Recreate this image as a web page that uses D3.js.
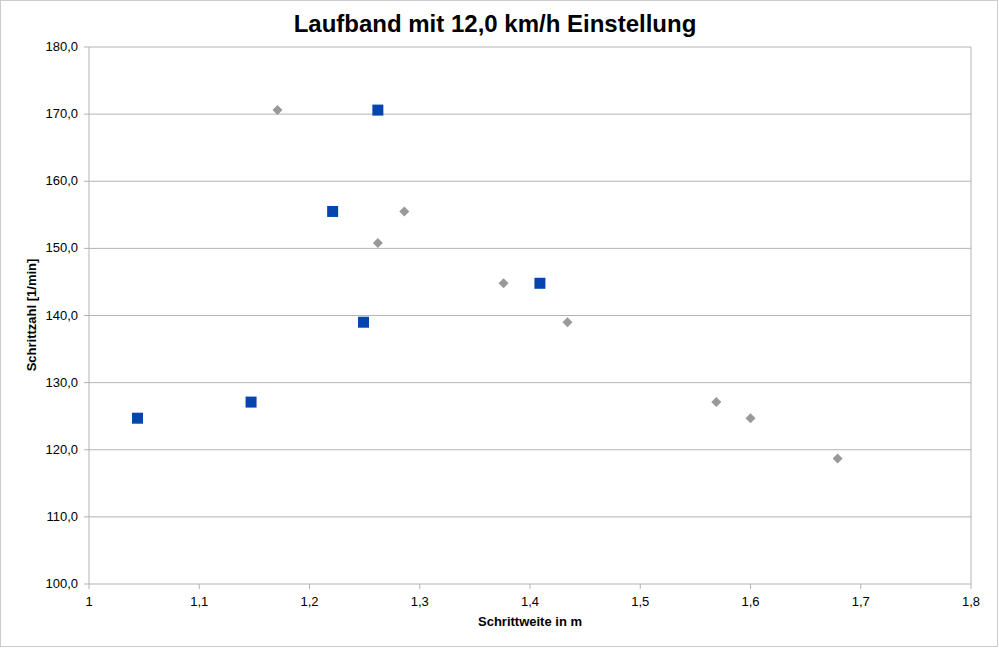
<!DOCTYPE html><html><head><meta charset="utf-8">
<script src="https://cdn.jsdelivr.net/npm/d3@7"></script>
<style>body{margin:0;background:#fff}text{font-family:"Liberation Sans",Arial,sans-serif}</style></head><body>
<svg id="c" width="999" height="648"></svg>
<script>
const blueX=[1.044,1.147,1.221,1.249,1.262,1.409];
const blueY=[124.7,127.1,155.5,139.0,170.6,144.8];
const grayX=[1.171,1.262,1.286,1.376,1.434,1.569,1.600,1.679];
const grayY=[170.6,150.8,155.5,144.8,139.0,127.1,124.7,118.7];
const xTicks=[1,1.1,1.2,1.3,1.4,1.5,1.6,1.7,1.8];
const yTicks=[100,110,120,130,140,150,160,170,180];
const svg=d3.select("#c");
svg.append("rect").attr("x",0.5).attr("y",0.5).attr("width",997).attr("height",646).attr("fill","#fff").attr("stroke","#ccc");
const x=d3.scaleLinear().domain([1,1.8]).range([89,971]);
const y=d3.scaleLinear().domain([100,180]).range([584,47]);
const fmt=d=>String(+d.toFixed(1)).replace(".",",");
const g=svg.append("g");
g.selectAll(".gl").data(yTicks).join("line").attr("x1",89).attr("x2",971).attr("y1",d=>y(d)).attr("y2",d=>y(d)).attr("stroke","#b3b3b3");
g.append("line").attr("x1",89).attr("x2",89).attr("y1",47).attr("y2",584).attr("stroke","#b3b3b3");
g.append("line").attr("x1",971).attr("x2",971).attr("y1",47).attr("y2",584).attr("stroke","#b3b3b3");
g.selectAll(".xt").data(xTicks).join("line").attr("x1",d=>x(d)).attr("x2",d=>x(d)).attr("y1",584).attr("y2",589).attr("stroke","#b3b3b3");
g.selectAll(".yt").data(yTicks).join("line").attr("x1",84).attr("x2",89).attr("y1",d=>y(d)).attr("y2",d=>y(d)).attr("stroke","#b3b3b3");
g.selectAll(".xl").data(xTicks).join("text").attr("x",d=>x(d)).attr("y",606).attr("text-anchor","middle").attr("font-size",13).text(d=>d===1||d===1.8?String(d).replace(".",","):fmt(d));
g.selectAll(".yl").data(yTicks).join("text").attr("x",78).attr("y",d=>y(d)+4).attr("text-anchor","end").attr("font-size",13).text(d=>d.toFixed(1).replace(".",","));
svg.append("text").attr("x",495).attr("y",32).attr("text-anchor","middle").attr("font-size",24).attr("font-weight","bold").text("Laufband mit 12,0 km/h Einstellung");
svg.append("text").attr("x",530).attr("y",626).attr("text-anchor","middle").attr("font-size",13).attr("font-weight","bold").text("Schrittweite in m");
svg.append("text").attr("transform","translate(36,315) rotate(-90)").attr("text-anchor","middle").attr("font-size",13).attr("font-weight","bold").text("Schrittzahl [1/min]");
const gd=grayX.map((v,i)=>[v,grayY[i]]), bd=blueX.map((v,i)=>[v,blueY[i]]);
svg.selectAll(".gp").data(gd).join("path").attr("d",d3.symbol(d3.symbolDiamond2,0)).attr("d","M0,-5L5,0L0,5L-5,0Z").attr("transform",d=>`translate(${x(d[0])},${y(d[1])})`).attr("fill","#999");
svg.selectAll(".bp").data(bd).join("rect").attr("x",d=>x(d[0])-5.5).attr("y",d=>y(d[1])-5.5).attr("width",11).attr("height",11).attr("fill","#0645ad");
</script></body></html>
